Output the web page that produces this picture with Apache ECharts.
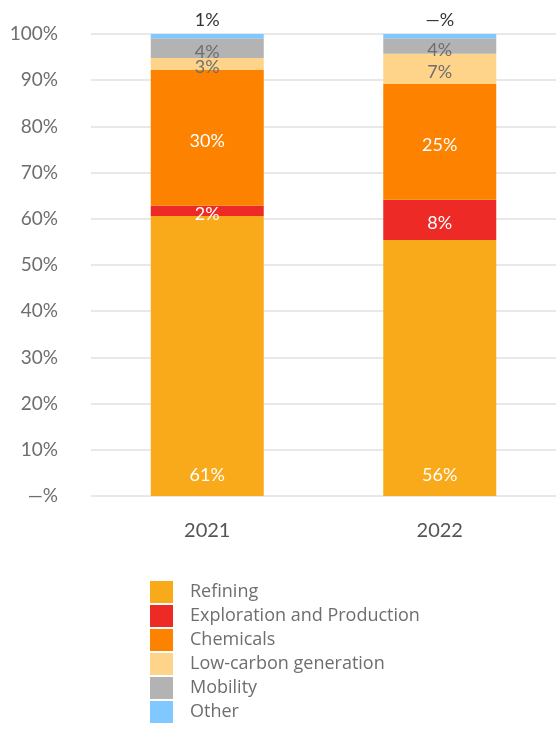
<!DOCTYPE html>
<html>
<head>
<meta charset="utf-8">
<script src="https://cdn.jsdelivr.net/npm/echarts@6/dist/echarts.min.js"></script>
<style>html,body{margin:0;padding:0;background:#fff;}#chart{width:556px;height:731px;}</style>
</head>
<body>
<div id="chart"></div>
<script>
const categories = ['2021', '2022'];
const yTickLabels = ['—%', '10%', '20%', '30%', '40%', '50%', '60%', '70%', '80%', '90%', '100%'];
const seriesNames = ['Refining', 'Exploration and Production', 'Chemicals', 'Low-carbon generation', 'Mobility', 'Other'];
const refining = [60.6, 55.4];
const exploration = [2.2, 8.7];
const chemicals = [29.4, 25.1];
const lowCarbon = [2.6, 6.5];
const mobility = [4.3, 3.4];
const other = [0.9, 0.9];
const refiningLabels = ['61%', '56%'];
const explorationLabels = ['2%', '8%'];
const chemicalsLabels = ['30%', '25%'];
const lowCarbonLabels = ['3%', '7%'];
const mobilityLabels = ['4%', '4%'];
const otherLabels = ['1%', '—%'];

const FONT = 'Lato';
const colors = ['#F9AA1A', '#EE2A26', '#FD8200', '#FED48A', '#B3B3B3', '#80C8FF'];
const values = [refining, exploration, chemicals, lowCarbon, mobility, other];
const labelTexts = [refiningLabels, explorationLabels, chemicalsLabels, lowCarbonLabels, mobilityLabels, otherLabels];
const labelCfg = [
  {position: 'insideBottom', distance: 12, color: '#fff'},
  {position: 'inside', color: '#fff', offset: [0, 3]},
  {position: 'inside', color: '#fff', offset: [0, 3]},
  {position: 'inside', color: '#6e6e6e', offset: [0, 3]},
  {position: 'inside', color: '#6e6e6e', offset: [0, 4]},
  {position: 'top', distance: 5, color: '#333'}
];

const series = seriesNames.map((name, i) => ({
  name: name,
  type: 'bar',
  stack: 'total',
  barWidth: 113,
  data: values[i],
  itemStyle: {color: colors[i]},
  label: Object.assign({
    show: true,
    fontFamily: FONT,
    fontSize: 18,
    formatter: p => labelTexts[i][p.dataIndex]
  }, labelCfg[i]),
  emphasis: {disabled: true}
}));

const chart = echarts.init(document.getElementById('chart'), null, {renderer: 'canvas'});
chart.setOption({
  animation: false,
  backgroundColor: '#fff',
  grid: {left: 91, right: 0, top: 34, height: 462},
  xAxis: {
    type: 'category',
    data: categories,
    axisLine: {show: false},
    axisTick: {show: false},
    axisLabel: {color: '#555', fontFamily: FONT, fontSize: 20, margin: 25}
  },
  yAxis: {
    type: 'value',
    min: 0,
    max: 100,
    interval: 10,
    axisLine: {show: false},
    axisTick: {show: false},
    splitLine: {lineStyle: {color: '#e8e8e8', width: 2}},
    axisLabel: {
      color: '#6e6e6e', fontFamily: FONT, fontSize: 19, margin: 33,
      formatter: v => yTickLabels[Math.round(v / 10)]
    }
  },
  legend: {
    orient: 'vertical',
    left: 150,
    top: 581,
    padding: 0,
    itemWidth: 23,
    itemHeight: 22,
    itemGap: 2,
    icon: 'rect',
    selectedMode: false,
    textStyle: {color: '#6e6e6e', fontFamily: 'Open Sans', fontSize: 18, padding: [3, 0, 0, 12]},
    data: seriesNames
  },
  series: series
});
</script>
</body>
</html>
